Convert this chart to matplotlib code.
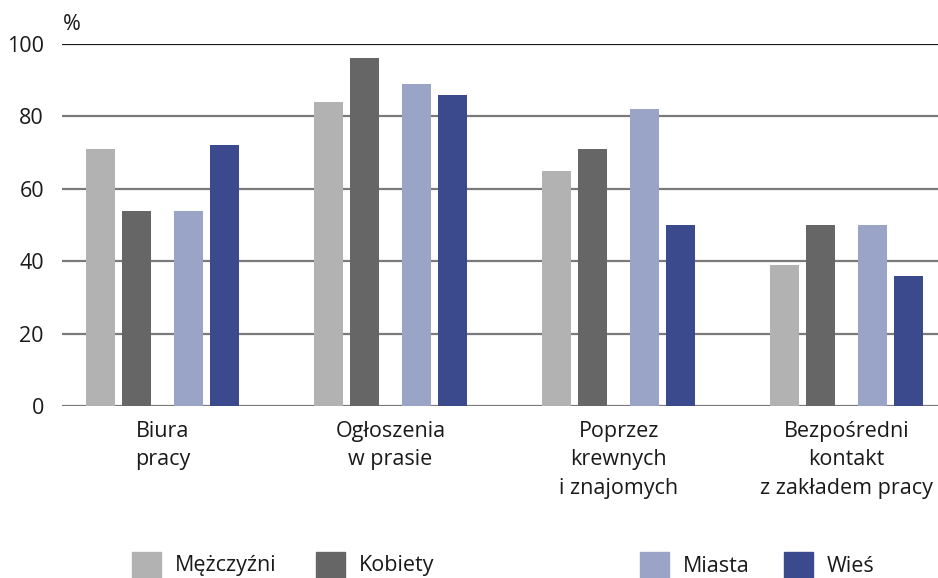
import numpy as np
import matplotlib.pyplot as plt
from matplotlib.patches import Rectangle

# dane
kategorie = ['Biura\npracy', 'Ogłoszenia\nw prasie', 'Poprzez\nkrewnych\ni znajomych',
             'Bezpośredni\nkontakt\nz zakładem pracy']
mezczyzni = [71, 84, 65, 39]
kobiety = [54, 96, 71, 50]
miasta = [54, 89, 82, 50]
wies = [72, 86, 50, 36]
serie = ['Mężczyźni', 'Kobiety', 'Miasta', 'Wieś']
kolory = ['#b2b2b2', '#666666', '#99a4c6', '#3b4a8c']
yticks = [0, 20, 40, 60, 80, 100]

plt.rcParams['font.family'] = ['Open Sans', 'DejaVu Sans']
fs = 15.5

W, H = 938, 578
fig = plt.figure(figsize=(W / 100, H / 100), dpi=100)
ax = fig.add_axes([62 / W, 1 - 406 / H, 876 / W, 362 / H])

x = np.arange(len(kategorie))
offs = [-0.274, -0.116, 0.114, 0.272]
width = 0.127
for vals, off, c in zip([mezczyzni, kobiety, miasta, wies], offs, kolory):
    ax.bar(x + off, vals, width, color=c, zorder=3)

ax.set_xlim(-0.441, 3.401)
ax.set_ylim(0, 100)
ax.set_yticks(yticks)
ax.set_yticklabels([str(v) for v in yticks], fontsize=fs)
ax.set_xticks(x)
ax.set_xticklabels(kategorie, fontsize=fs, linespacing=1.45, va='top')
ax.tick_params(axis='both', length=0, colors='#1a1a1a')
ax.tick_params(axis='y', pad=13)
ax.tick_params(axis='x', pad=11)
for s in ax.spines.values():
    s.set_visible(False)
for v in yticks:
    col = '#1a1a1a' if v == 100 else '#7a7a7a'
    ax.axhline(v, color=col, lw=1.6, zorder=2)

fig.text(63 / W, 1 - 24 / H, '%', fontsize=fs, va='center', ha='left', color='#1a1a1a')

# legenda
leg_x = [132, 316, 640, 784]
for nazwa, c, lx in zip(serie, kolory, leg_x):
    fig.add_artist(Rectangle((lx / W, 0), 29 / W, 26 / H, color=c, transform=fig.transFigure))
    fig.text((lx + 43) / W, 1 - 566 / H, nazwa, fontsize=fs, va='center', ha='left', color='#1a1a1a')

fig.savefig('out.png', dpi=100)
